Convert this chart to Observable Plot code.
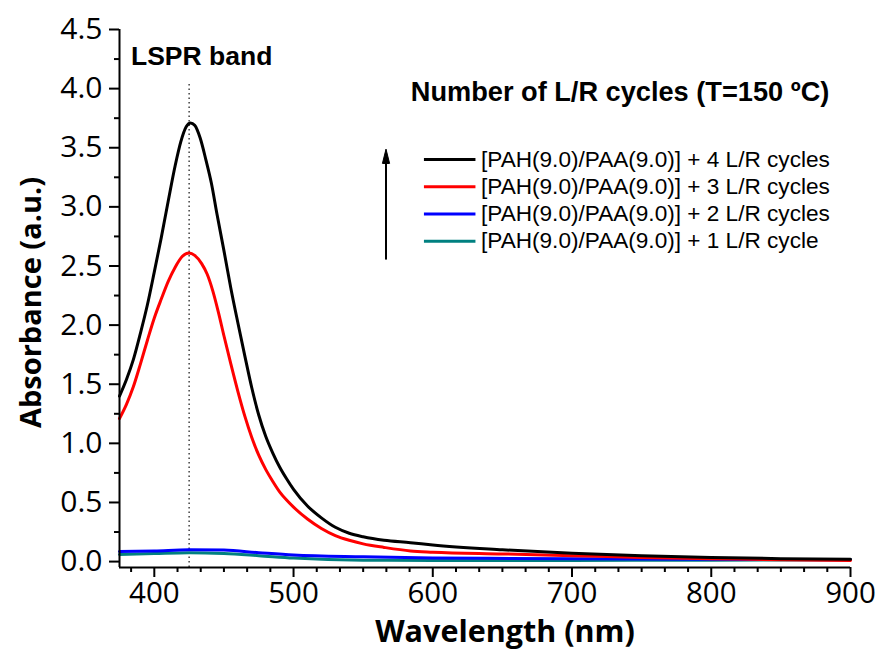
<!DOCTYPE html>
<html><head><meta charset="utf-8">
<script src="https://cdn.jsdelivr.net/npm/d3@7"></script>
<script src="https://cdn.jsdelivr.net/npm/@observablehq/plot@0.6"></script>
<style>body{margin:0;background:#fff}</style>
</head><body><div id="chart"></div>
<script>
// Series: [PAH(9.0)/PAA(9.0)] + n L/R cycles
const wl4 = [375,380,385,390,395,400,405,410,415,419,423,426,429,433,437,441,445,450,455,460,465,470,475,480,485,490,495,500,510,520,530,540,550,565,584,600,650,700,750,800,850,900];
const abs4 = [1.40,1.54,1.71,1.93,2.17,2.45,2.74,3.05,3.35,3.55,3.68,3.71,3.69,3.58,3.40,3.20,2.94,2.63,2.31,2.02,1.74,1.47,1.24,1.06,0.92,0.80,0.70,0.61,0.47,0.37,0.29,0.24,0.21,0.18,0.16,0.14,0.10,0.07,0.05,0.035,0.025,0.02];
const wl3 = [375,380,385,390,395,400,405,410,415,420,425,429,434,438,442,446,450,455,460,465,470,475,480,485,490,495,500,510,520,530,540,550,565,584,600,650,700,750,800,850,900];
const abs3 = [1.21,1.33,1.48,1.67,1.87,2.06,2.22,2.37,2.49,2.58,2.61,2.59,2.52,2.43,2.29,2.11,1.91,1.67,1.44,1.23,1.05,0.90,0.78,0.68,0.59,0.52,0.46,0.36,0.28,0.22,0.18,0.15,0.12,0.09,0.08,0.065,0.05,0.035,0.025,0.015,0.01];
const wl2 = [375,400,425,450,475,500,550,600,700,800,900];
const abs2 = [0.085,0.09,0.10,0.097,0.075,0.055,0.04,0.03,0.025,0.02,0.015];
const wl1 = [375,400,425,450,475,500,550,600,700,800,900];
const abs1 = [0.06,0.068,0.075,0.068,0.05,0.03,0.012,0.01,0.01,0.012,0.015];

const seriesNames = [
  "[PAH(9.0)/PAA(9.0)] + 4 L/R cycles",
  "[PAH(9.0)/PAA(9.0)] + 3 L/R cycles",
  "[PAH(9.0)/PAA(9.0)] + 2 L/R cycles",
  "[PAH(9.0)/PAA(9.0)] + 1 L/R cycle"
];
const seriesColors = ["#000000", "#ff0000", "#0000ff", "#008080"];
const seriesWl = [wl4, wl3, wl2, wl1];
const seriesAbs = [abs4, abs3, abs2, abs1];

const xMajorTicks = [400, 500, 600, 700, 800, 900];
const yMajorTicks = [0, 0.5, 1.0, 1.5, 2.0, 2.5, 3.0, 3.5, 4.0, 4.5];
const yMinorTicks = [0.25, 0.75, 1.25, 1.75, 2.25, 2.75, 3.25, 3.75, 4.25];
const lsprWavelength = 425;
const legendY = [3.40, 3.17, 2.94, 2.71];

// minor x ticks every 100/6 nm aligned on the major ticks
const xMinor = [];
for (let k = -1; k < 30; k++) {
  const m = 400 + k * 100 / 6;
  if (m > 375 && m < 900 && k % 6 !== 0) xMinor.push(m);
}

const lines = seriesNames.map((name, i) => {
  const rows = seriesWl[i].map((w, j) => ({wl: w, abs: seriesAbs[i][j]}));
  return Plot.line(rows, {x: "wl", y: "abs", stroke: seriesColors[i], strokeWidth: 3, curve: "monotone-x"});
});

const legendRows = seriesNames.map((name, i) => ({name, color: seriesColors[i], y: legendY[i]}));

const arrowHead = {
  draw(context, l, r) {
    context.moveTo(-r, 0);
    context.lineTo(0, -l);
    context.lineTo(r, 0);
    context.closePath();
  }
};

const arial = "'Liberation Sans', Arial, sans-serif";

const chart = Plot.plot({
  width: 877, height: 650,
  marginLeft: 119, marginRight: 27, marginTop: 29, marginBottom: 83,
  x: {domain: [375, 900]},
  y: {domain: [-0.05, 4.5]},
  style: {fontFamily: "'Open Sans', sans-serif", background: "#fff", color: "#000"},
  marks: [
    Plot.ruleX([lsprWavelength], {y1: -0.05, y2: 4.05, stroke: "#222", strokeWidth: 1.3, strokeDasharray: "1.5,3"}),
    ...lines.slice().reverse(),
    // axes
    Plot.axisX(xMajorTicks, {tickSize: 10, tickPadding: 5, fontSize: 29.5, strokeWidth: 2, label: null, tickFormat: d3.format("d")}),
    Plot.axisX(xMinor, {tickSize: 5, strokeWidth: 2, label: null, tickFormat: () => ""}),
    Plot.axisY(yMajorTicks, {tickSize: 10, tickPadding: 7, fontSize: 30, strokeWidth: 2, label: null, tickFormat: d3.format(".1f")}),
    Plot.axisY(yMinorTicks, {tickSize: 5, strokeWidth: 2, label: null, tickFormat: () => ""}),
    Plot.ruleX([375], {stroke: "#000", strokeWidth: 2}),
    Plot.ruleY([-0.05], {stroke: "#000", strokeWidth: 2}),
    // axis titles
    Plot.text(["Absorbance (a.u.)"], {frameAnchor: "left", textAnchor: "middle", rotate: -90, dx: -88, dy: 4, fontWeight: "bold", fontSize: 29, fill: "#000"}),
    Plot.text(["Wavelength (nm)"], {frameAnchor: "bottom", textAnchor: "middle", dx: 20, dy: 74, fontWeight: "bold", fontSize: 30.5, fill: "#000"}),
    // annotations
    Plot.text(["LSPR band"], {x: 434, y: 4.27, fontFamily: arial, fontWeight: "bold", fontSize: 26.5, fill: "#000"}),
    Plot.text(["Number of L/R cycles (T=150 ºC)"], {x: 734.5, y: 3.97, fontFamily: arial, fontWeight: "bold", fontSize: 27.2, fill: "#000"}),
    Plot.ruleX([566.4], {y1: 2.55, y2: 3.39, stroke: "#000", strokeWidth: 2}),
    Plot.vector([566.4], {x: d => d, y: 3.37, length: 14, r: 3.5, anchor: "start", shape: arrowHead, fill: "#000", stroke: "#000", strokeWidth: 1}),
    Plot.ruleY(legendRows, {y: "y", x1: 594, x2: 631, stroke: "color", strokeWidth: 3}),
    Plot.text(legendRows, {x: 634.6, y: "y", text: "name", textAnchor: "start", fontFamily: arial, fontSize: 22.6, fill: "#000"})
  ]
});
document.getElementById("chart").appendChild(chart);
</script>
</body></html>
